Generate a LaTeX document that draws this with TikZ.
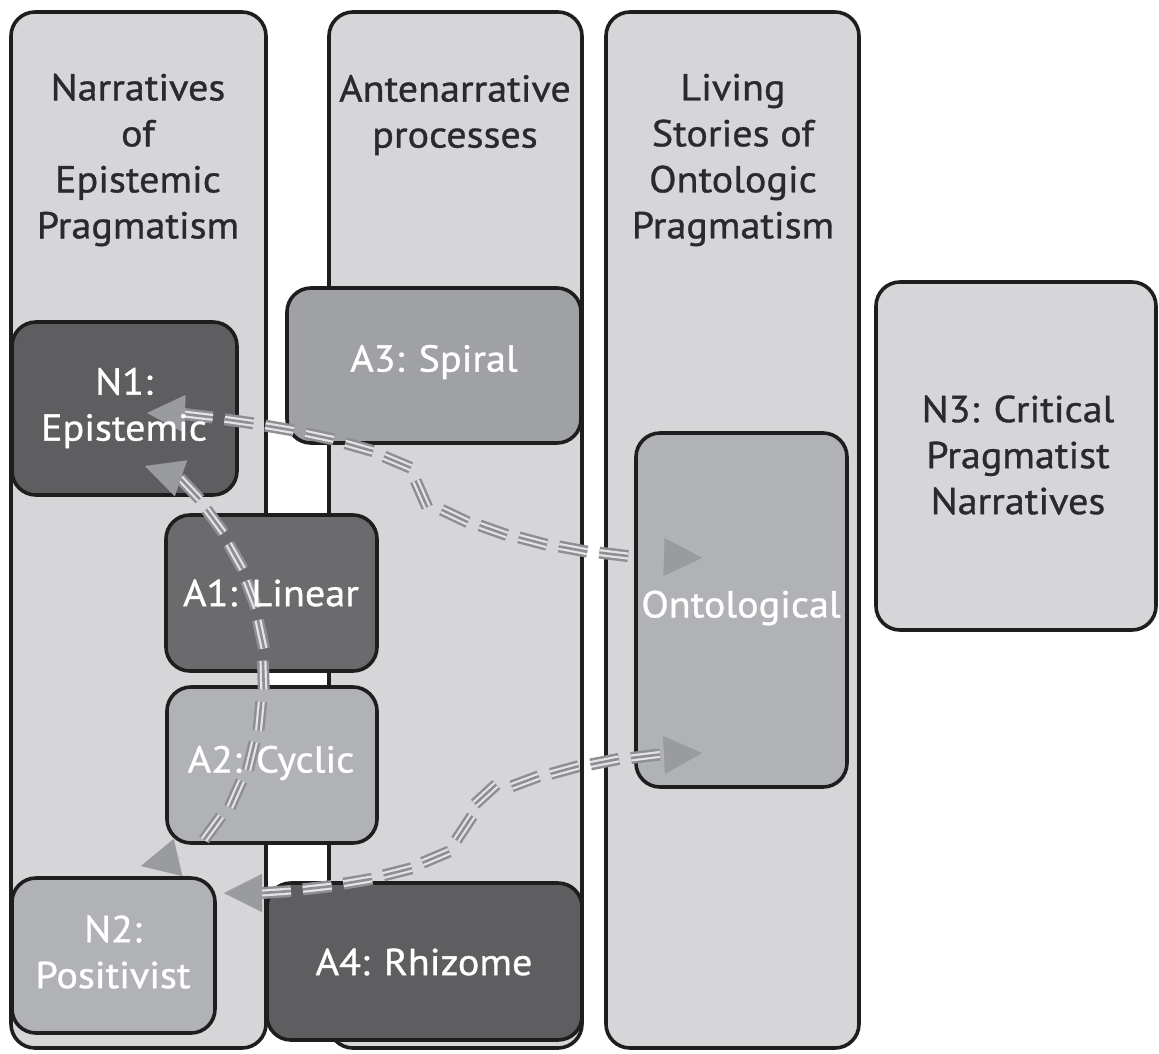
\documentclass[tikz,border=0pt]{standalone}
\usepackage{fontspec}
\setmainfont[FakeStretch=1.07,FakeBold=0.9]{PT Sans}
\usetikzlibrary{arrows.meta,decorations.markings}

\definecolor{panelfill}{HTML}{D6D6D8}
\definecolor{darkbox}{HTML}{5E5E61}
\definecolor{darkboxb}{HTML}{6B6B6E}
\definecolor{midbox}{HTML}{A0A1A4}
\definecolor{lightbox}{HTML}{B1B2B5}
\definecolor{edge}{HTML}{1E1E1E}
\definecolor{ink}{HTML}{2A2A2C}
\definecolor{ribgray}{HTML}{8E8F92}
\definecolor{ribgap}{HTML}{E4E4E6}
\definecolor{headgray}{HTML}{9A9B9E}

% three-stranded dashed ribbon: short triple strokes placed along a path
\newcommand\dashribbon[1]{%
  \path[decorate, decoration={markings,
    mark=between positions 0 and -24pt step 41pt with {%
      \draw[rib outer] (0pt,0pt) -- (29pt,0pt);
      \draw[rib inner] (0pt,0pt) -- (29pt,0pt);
      \draw[rib core]  (0pt,0pt) -- (29pt,0pt);}}] #1;}

\begin{document}
\begin{tikzpicture}[x=1pt,y=-1pt,
  panel/.style={draw=edge, line width=3.6pt, rounded corners=24pt,
    anchor=north west, inner sep=0pt, outer sep=0pt},
  lbl/.style={font=\fontsize{37.5}{46}\selectfont, align=center, inner sep=0pt},
  darklbl/.style={lbl, text=ink},
  lightlbl/.style={lbl, text=white},
  rib outer/.style={draw=ribgray, line width=12pt, line cap=butt},
  rib inner/.style={draw=ribgap, line width=7pt, line cap=butt},
  rib core/.style={draw=ribgray, line width=2.6pt, line cap=butt},
  head/.style={draw=headgray, fill=headgray, line width=0.2pt,
    -{Triangle[length=38pt,width=38pt]}},
]
\useasboundingbox (0,0) rectangle (1159,1053);
\fill[white] (0,0) rectangle (1159,1053);

% columns and the free-standing panel
\node[panel, fill=panelfill, minimum width=255pt, minimum height=1036pt] (c1) at (11,12) {};
\node[panel, fill=panelfill, minimum width=253pt, minimum height=1036pt] (c2) at (329,12) {};
\node[panel, fill=panelfill, minimum width=253pt, minimum height=1036pt] (c3) at (606,12) {};
\node[panel, fill=panelfill, minimum width=280pt, minimum height=348pt] (n3) at (876,282) {};

% boxes inside the columns
\node[panel, fill=midbox,   minimum width=294pt, minimum height=155pt] (a3) at (287,288) {};
\node[panel, fill=darkbox,  minimum width=225pt, minimum height=173pt] (n1) at (12,322) {};
\node[panel, fill=darkboxb, minimum width=211pt, minimum height=156pt] (a1) at (166,515) {};
\node[panel, fill=lightbox, minimum width=210pt, minimum height=156pt] (a2) at (167,687) {};
\node[panel, fill=lightbox, minimum width=203pt, minimum height=155pt] (n2) at (12,878) {};
\node[panel, fill=darkbox,  minimum width=315pt, minimum height=157pt] (a4) at (267,883) {};
\node[panel, fill=lightbox, minimum width=211pt, minimum height=354pt] (on) at (636,433) {};

% connector end points
\coordinate (n1r)  at (184,414);  \coordinate (n1rt) at (147,413);
\coordinate (onA)  at (664,557);  \coordinate (onAt) at (702,558);
\coordinate (n1b)  at (180,478);  \coordinate (n1bt) at (145,466);
\coordinate (n2t)  at (180,857);  \coordinate (n2tt) at (141,866);
\coordinate (n2r)  at (262,893);  \coordinate (n2rt) at (224,893);
\coordinate (onB)  at (664,755);  \coordinate (onBt) at (702,753);

% N1 <-> Ontological
\dashribbon{(n1r) .. controls (260,423) and (350,438) .. (398,463)
  .. controls (424,476) and (412,494) .. (432,505)
  .. controls (500,540) and (590,556) .. (onA)}
% N1 <-> N2
\dashribbon{(n1b) .. controls (238,540) and (264,610) .. (263,670)
  .. controls (262,750) and (238,815) .. (n2t)}
% N2 <-> Ontological
\dashribbon{(n2r) .. controls (350,887) and (430,870) .. (455,842)
  .. controls (468,824) and (462,808) .. (486,797)
  .. controls (540,772) and (610,758) .. (onB)}

\draw[head] (n1r) -- (n1rt);
\draw[head] (onA) -- (onAt);
\draw[head] (n1b) -- (n1bt);
\draw[head] (n2t) -- (n2tt);
\draw[head] (n2r) -- (n2rt);
\draw[head] (onB) -- (onBt);

% texts
\node[darklbl] (t1) at (138,160) {Narratives\\of\\Epistemic\\Pragmatism};
\node[darklbl] (t2) at (455,115) {Antenarrative\\processes};
\node[darklbl] (t3) at (733,160) {Living\\Stories of\\Ontologic\\Pragmatism};
\node[darklbl] (t4) at (1018,455) {N3: Critical\\Pragmatist\\Narratives};
\node[lightlbl] (l3) at (434,362) {A3: Spiral};
\node[lightlbl] (l1) at (124,408) {N1:\\Epistemic};
\node[lightlbl] (la1) at (271,593) {A1: Linear};
\node[lightlbl] (la2) at (271,763) {A2: Cyclic};
\node[lightlbl] (l2) at (113,952) {N2:\\Positivist};
\node[lightlbl] (la4) at (424,962) {A4: Rhizome};
\node[lightlbl] (lo) at (741,608) {Ontological};
\end{tikzpicture}
\end{document}
